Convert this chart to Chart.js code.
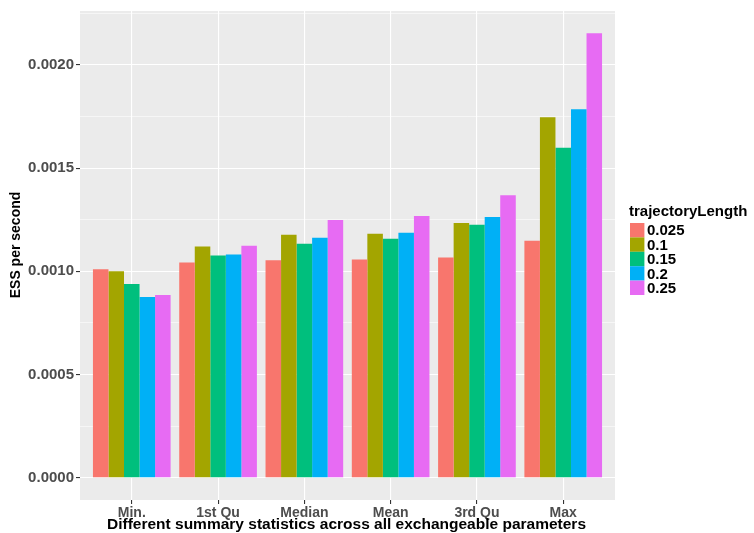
<!DOCTYPE html>
<html>
<head>
<meta charset="utf-8">
<script src="https://cdn.jsdelivr.net/npm/chart.js@4"></script>
<style>
  html, body { margin: 0; padding: 0; background: #fff; }
</style>
</head>
<body>
<canvas id="essChart" width="754" height="533"></canvas>
<script>
var categories = ['Min.', '1st Qu', 'Median', 'Mean', '3rd Qu', 'Max'];
var lengths = ['0.025', '0.1', '0.15', '0.2', '0.25'];
var colors = ['#F8766D', '#A3A500', '#00BF7D', '#00B0F6', '#E76BF3'];

// ESS per second, one array per trajectoryLength
var ess0025 = [0.001010, 0.001043, 0.001053, 0.001057, 0.001067, 0.001148];
var ess01   = [0.001000, 0.001120, 0.001177, 0.001182, 0.001234, 0.001746];
var ess015  = [0.000938, 0.001077, 0.001134, 0.001158, 0.001225, 0.001598];
var ess02   = [0.000876, 0.001081, 0.001163, 0.001187, 0.001263, 0.001785];
var ess025  = [0.000885, 0.001124, 0.001249, 0.001268, 0.001368, 0.002153];

var yMajor = [0, 0.0005, 0.0010, 0.0015, 0.0020];
var yGrid = [0, 0.00025, 0.0005, 0.00075, 0.0010, 0.00125, 0.0015, 0.00175, 0.0020, 0.00225];

var series = [ess0025, ess01, ess015, ess02, ess025];

function isMajor(v) {
  return yMajor.some(function (m) { return Math.abs(m - v) < 1e-9; });
}

// panel background + axis titles + legend
var ggPlugin = {
  id: 'gg',
  beforeDraw: function (chart) {
    var a = chart.chartArea, ctx = chart.ctx;
    ctx.save();
    ctx.fillStyle = '#EBEBEB';
    ctx.fillRect(a.left, a.top, a.right - a.left, a.bottom - a.top);
    ctx.restore();
  },
  afterDraw: function (chart) {
    var a = chart.chartArea, ctx = chart.ctx;
    ctx.save();
    ctx.fillStyle = '#000';
    ctx.font = 'bold 15.5px "Liberation Sans", Arial, sans-serif';
    ctx.textAlign = 'center';
    ctx.textBaseline = 'alphabetic';
    ctx.fillText('Different summary statistics across all exchangeable parameters', 346.5, 529);
    ctx.font = 'bold 14px "Liberation Sans", Arial, sans-serif';
    ctx.translate(20, 245);
    ctx.rotate(-Math.PI / 2);
    ctx.fillText('ESS per second', 0, 0);
    ctx.restore();

    // legend
    ctx.save();
    ctx.fillStyle = '#000';
    ctx.font = 'bold 15px "Liberation Sans", Arial, sans-serif';
    ctx.textAlign = 'left';
    ctx.textBaseline = 'alphabetic';
    ctx.fillText('trajectoryLength', 629, 216);
    var key = 14.4, top = 223;
    for (var i = 0; i < lengths.length; i++) {
      var y = top + i * key;
      ctx.fillStyle = colors[i];
      ctx.fillRect(630, y, key, key);
      ctx.fillStyle = '#000';
      ctx.textBaseline = 'middle';
      ctx.fillText(lengths[i], 647, y + key / 2 + 1);
    }
    ctx.restore();
  }
};

new Chart(document.getElementById('essChart'), {
  type: 'bar',
  data: {
    datasets: series.map(function (vals, i) {
      return {
        label: lengths[i],
        data: vals.map(function (v, j) { return { x: j + 1, y: v }; }),
        backgroundColor: colors[i],
        borderWidth: 0,
        categoryPercentage: 0.9,
        barPercentage: 1.0
      };
    })
  },
  options: {
    responsive: false,
    animation: false,
    devicePixelRatio: 1,
    layout: { padding: { top: 5, right: 139, left: 0, bottom: 0 } },
    plugins: {
      legend: { display: false },
      tooltip: { enabled: false }
    },
    scales: {
      x: {
        type: 'linear',
        offset: false,
        min: 0.4,
        max: 6.6,
        afterBuildTicks: function (scale) {
          scale.ticks = categories.map(function (c, i) { return { value: i + 1 }; });
        },
        afterFit: function (scale) { scale.height = 33; },
        border: { display: false },
        grid: {
          offset: false,
          color: '#FFFFFF',
          lineWidth: 1.1,
          tickColor: '#333333',
          tickLength: 4,
          tickWidth: 1.1
        },
        ticks: {
          autoSkip: false,
          maxRotation: 0,
          padding: 1,
          color: '#4D4D4D',
          font: { family: '"Liberation Sans", Arial, sans-serif', size: 14, weight: 'bold' },
          callback: function (v) { return categories[Math.round(v) - 1]; }
        }
      },
      y: {
        min: -0.000108,
        max: 0.002261,
        afterBuildTicks: function (scale) {
          scale.ticks = yGrid.map(function (v) { return { value: v }; });
        },
        afterFit: function (scale) { scale.width = 80; },
        border: { display: false },
        grid: {
          color: '#FFFFFF',
          lineWidth: function (c) { return isMajor(c.tick.value) ? 1.1 : 0.55; },
          tickColor: function (c) { return isMajor(c.tick.value) ? '#333333' : 'rgba(0,0,0,0)'; },
          tickLength: 4,
          tickWidth: 1.1
        },
        ticks: {
          padding: 2,
          color: '#4D4D4D',
          font: { family: '"Liberation Sans", Arial, sans-serif', size: 15, weight: 'bold' },
          callback: function (v) { return isMajor(v) ? v.toFixed(4) : ''; }
        }
      }
    }
  },
  plugins: [ggPlugin]
});
</script>
</body>
</html>
